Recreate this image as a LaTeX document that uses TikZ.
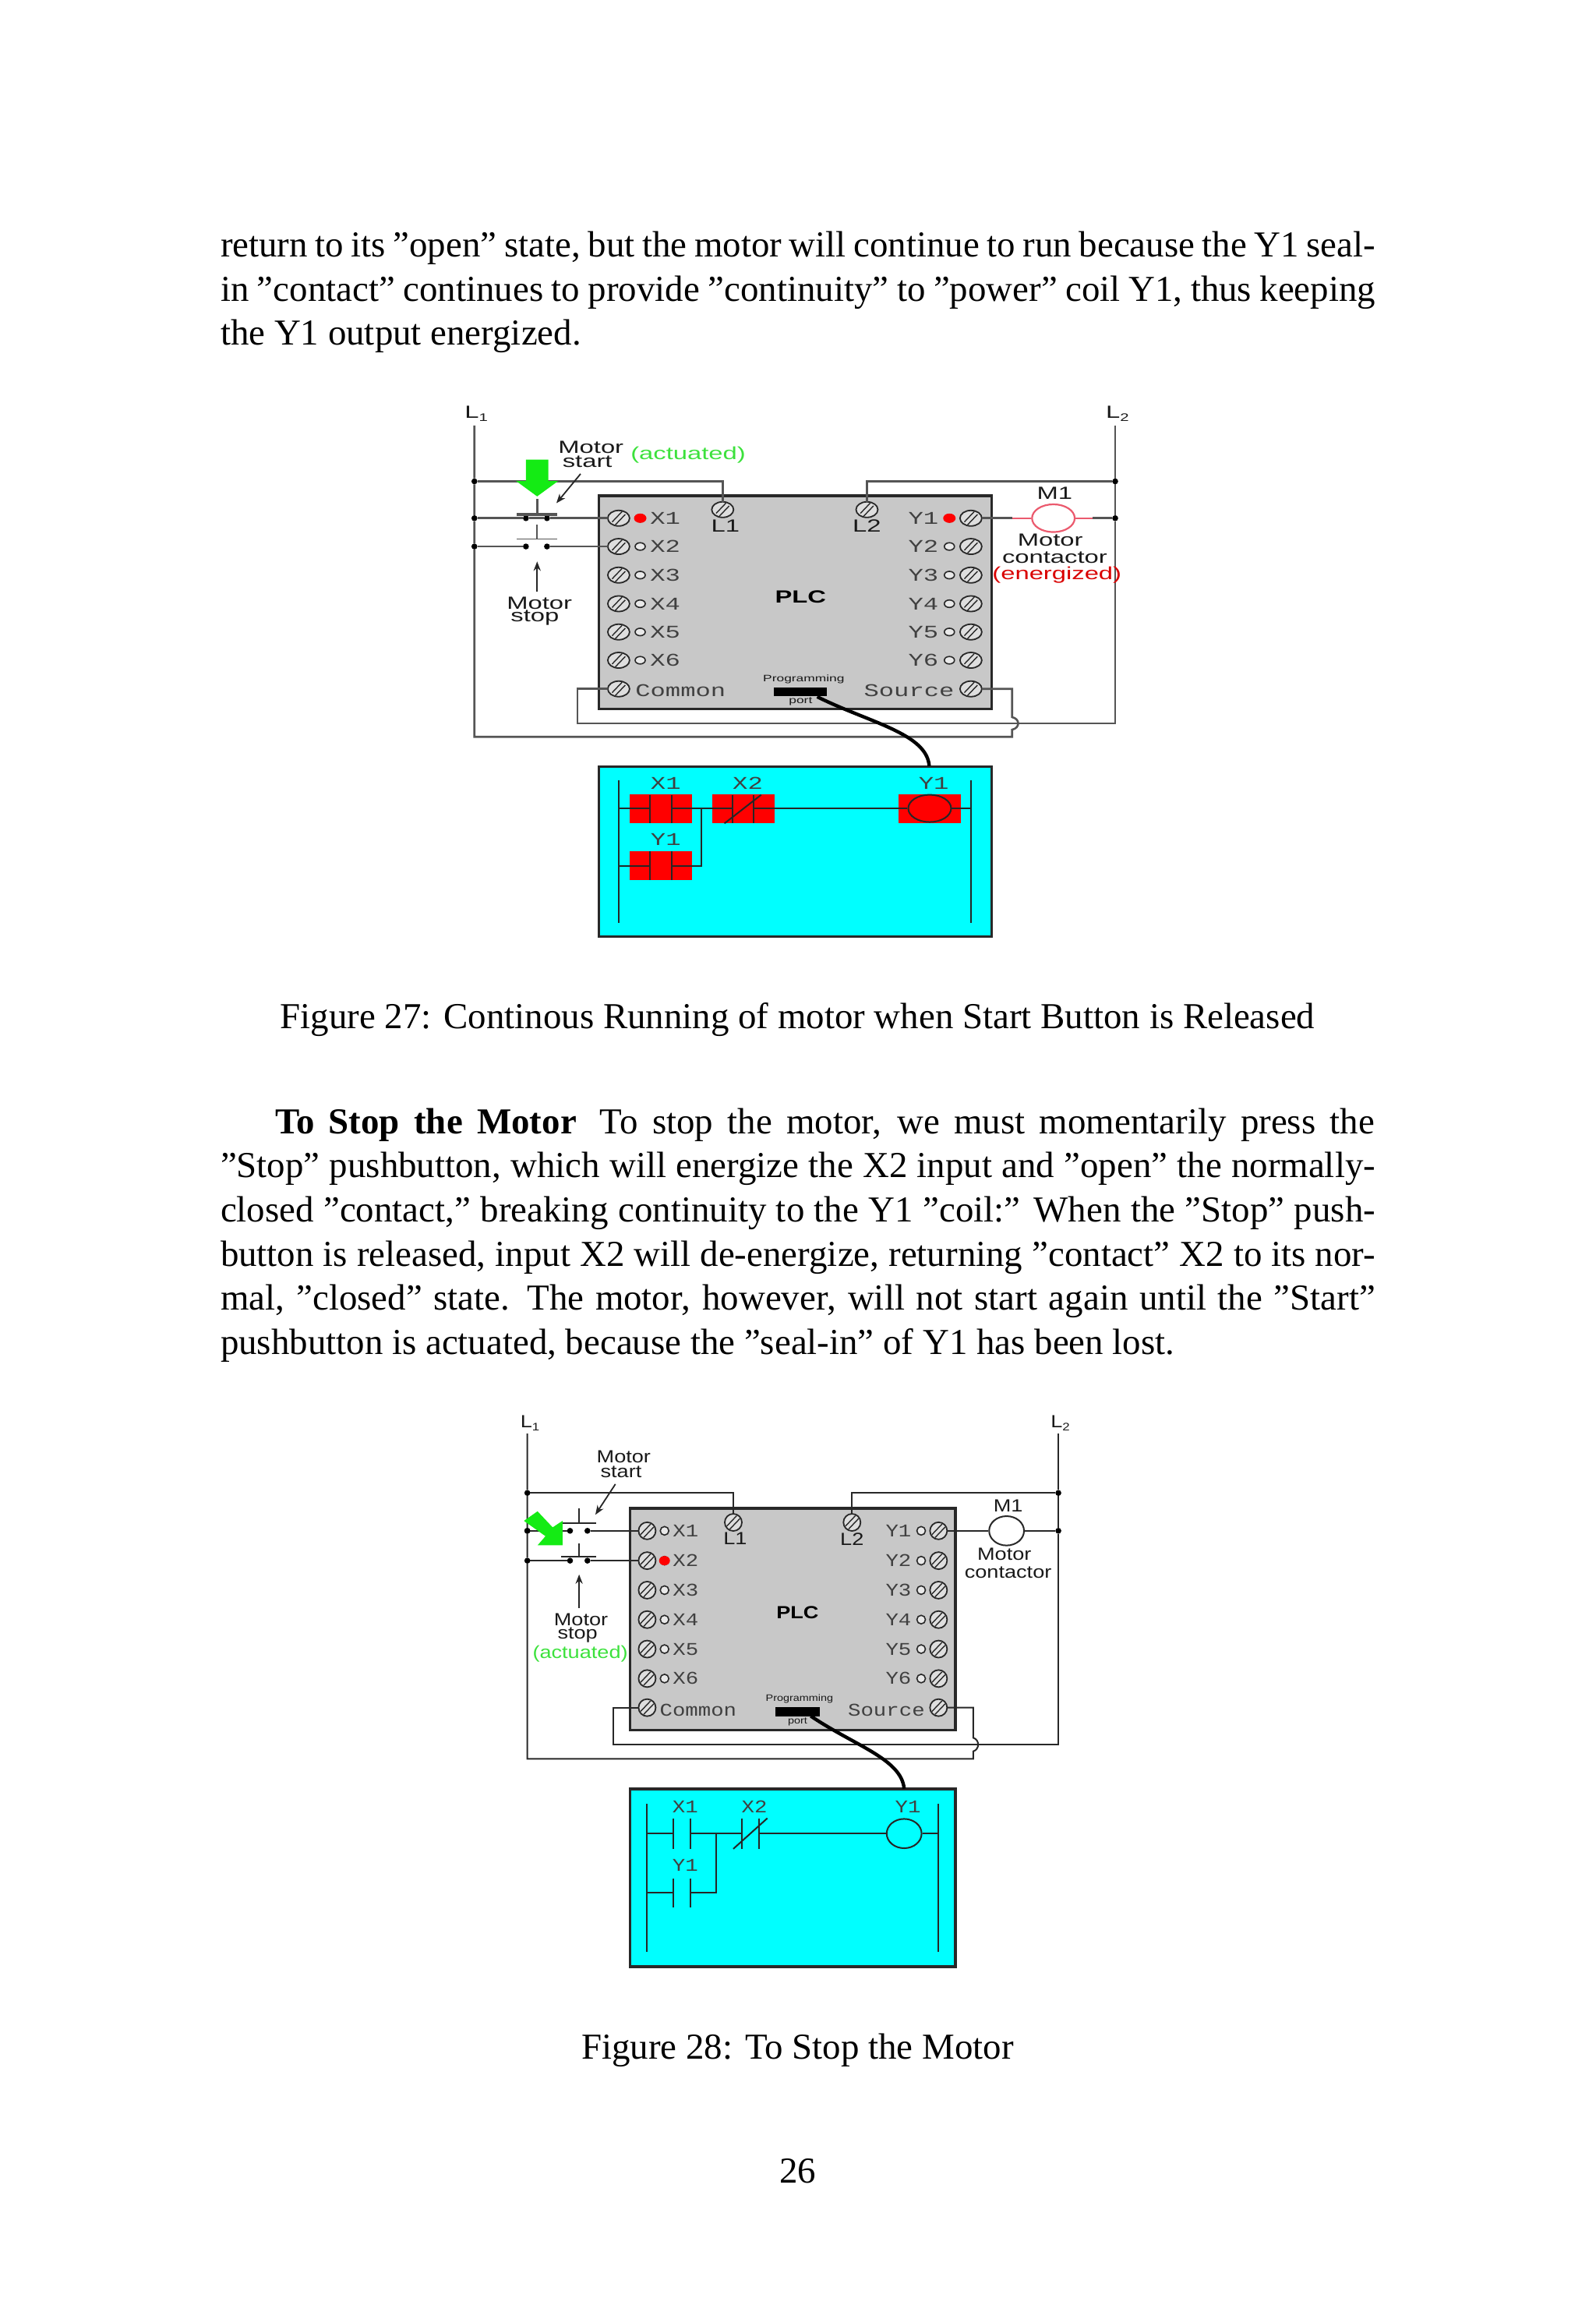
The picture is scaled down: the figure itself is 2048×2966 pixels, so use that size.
\documentclass[tikz,border=0pt]{standalone}
\usepackage{fontspec}
\usepackage{graphicx}
\usetikzlibrary{shapes.geometric,arrows.meta}
\setmainfont{Liberation Serif}
\newfontfamily\labsans{Liberation Sans}
\newfontfamily\labmono{Liberation Mono}
\newcommand{\Aa}[1]{\scalebox{1.45}[1]{#1}}
\newcommand{\Ab}[1]{\scalebox{1.2}[1]{#1}}
\newcommand{\Ma}[1]{\scalebox{1.4}[1]{#1}}
\newcommand{\Mb}[1]{\scalebox{1.19}[1]{#1}}
\newcommand{\Lsub}[1]{L\raisebox{-2pt}{\scalebox{.62}{#1}}}
\newcommand{\bodyline}[3]{\node[bodytext] (#1) at #2 {\hbox to 741pt{#3}};}
\newcommand{\screwmark}[1]{%
  \draw[screwline] ([shift={(-4.2pt,-2.4pt)}]#1.center) -- ([shift={(2.2pt,4.3pt)}]#1.center);
  \draw[screwline] ([shift={(-2.2pt,-4.3pt)}]#1.center) -- ([shift={(4.2pt,2.4pt)}]#1.center);}
\definecolor{plcgray}{RGB}{200,200,200}
\definecolor{wiregray}{RGB}{85,85,85}
\definecolor{wiredark}{RGB}{40,40,40}
\definecolor{actgreen}{RGB}{60,225,60}
\definecolor{coilred}{RGB}{235,90,110}
\definecolor{ladcyan}{RGB}{0,255,255}
\definecolor{hotg}{RGB}{20,235,20}
\tikzset{
  bodytext/.style={anchor=base west,inner sep=0pt,outer sep=0pt,font=\fontsize{23.45}{23.45}\selectfont},
  captext/.style={anchor=base,inner sep=0pt,outer sep=0pt,font=\fontsize{23.45}{23.45}\selectfont},
  lab/.style={inner sep=0pt,outer sep=0pt,font=\labsans\fontsize{11.3}{11.3}\selectfont,text=black!90},
  tiny lab/.style={inner sep=0pt,outer sep=0pt,font=\labsans\fontsize{6}{6}\selectfont,text=black!90},
  plctitle/.style={inner sep=0pt,outer sep=0pt,font=\labsans\bfseries\fontsize{11.3}{11.3}\selectfont},
  mono/.style={inner sep=0pt,outer sep=0pt,font=\labmono\fontsize{11.5}{11.5}\selectfont,text=black!75},
  cascreen/.style={draw=wiredark,line width=1.6pt,fill=plcgray,rectangle,inner sep=0pt},
  ladscreen/.style={draw=wiredark,line width=1.6pt,fill=ladcyan,rectangle,inner sep=0pt},
  screwA/.style={draw=wiredark,line width=.9pt,fill=plcgray!60,ellipse,minimum width=14pt,minimum height=10pt,inner sep=0pt,outer sep=0pt},
  screwB/.style={draw=wiredark,line width=.9pt,fill=plcgray!60,ellipse,minimum width=11pt,minimum height=11pt,inner sep=0pt,outer sep=0pt},
  screwline/.style={line width=.7pt,draw=wiredark},
  ledoffA/.style={draw=wiredark,line width=.8pt,fill=plcgray!40,ellipse,minimum width=6.5pt,minimum height=4.8pt,inner sep=0pt},
  ledonA/.style={fill=red,ellipse,minimum width=8pt,minimum height=6pt,inner sep=0pt},
  ledoffB/.style={draw=wiredark,line width=.8pt,fill=plcgray!40,ellipse,minimum width=5.5pt,minimum height=5.5pt,inner sep=0pt},
  ledonB/.style={fill=red,ellipse,minimum width=7pt,minimum height=6pt,inner sep=0pt},
  dotn/.style={fill=black,circle,minimum size=3.8pt,inner sep=0pt,outer sep=0pt},
  wireA/.style={draw=wiregray,line width=1.3pt},
  wireB/.style={draw=wiredark,line width=1pt},
  ladwire/.style={draw=black!85,line width=1pt},
  redblock/.style={fill=red,rectangle,minimum width=40pt,minimum height=18.5pt,inner sep=0pt},
  cable/.style={draw=black,line width=2.2pt},
  thinarrow/.style={draw=black!85,line width=.9pt,-{Stealth[length=6pt,width=4.6pt]}},
  hotgreen/.style={fill=hotg,draw=none},
}
\begin{document}
\begin{tikzpicture}[x=.5pt,y=-.5pt]
\useasboundingbox (0,0) rectangle (2048,2966);
% ---------- text ----------
\bodyline{t1}{(283,329.3)}{return to its ”open” state, but the motor will continue to run because the Y1 seal-}
\bodyline{t2}{(283,386)}{in ”contact” continues to provide ”continuity” to ”power” coil Y1, thus keeping}
\node[bodytext] (t3) at (283,442.7) {the Y1 output energized.};
\node[captext] (cap27) at (1023.5,1319) {Figure 27: Continous Running of motor when Start Button is Released};
\node[bodytext] (t4) at (353,1454) {\hbox to 705.5pt{{\bfseries To Stop the Motor}\hskip 15pt To stop the motor, we must momentarily press the}};
\bodyline{t5}{(283,1510.7)}{”Stop” pushbutton, which will energize the X2 input and ”open” the normally-}
\bodyline{t6}{(283,1567.3)}{closed ”contact,” breaking continuity to the Y1 ”coil:” When the ”Stop” push-}
\bodyline{t7}{(283,1624)}{button is released, input X2 will de-energize, returning ”contact” X2 to its nor-}
\bodyline{t8}{(283,1680.7)}{mal, ”closed” state.\hskip 11pt The motor, however, will not start again until the ”Start”}
\node[bodytext] (t9) at (283,1737.3) {pushbutton is actuated, because the ”seal-in” of Y1 has been lost.};
\node[captext] (cap28) at (1023.5,2641) {Figure 28: To Stop the Motor};
\node[captext] (pg) at (1023.5,2800.7) {26};

% ---------- Figure 27 ----------
\begin{scope}[shift={(580,500)},x=.2875pt,y=-.2295pt]
\node[cascreen,minimum width=252pt,minimum height=136.8pt] (aplc) at (766.5,594.5) {};
\node[ladscreen,minimum width=252pt,minimum height=109pt] (alad) at (766.5,1290) {};
\node[lab] (aL1) at (54,68) {\Aa{\Lsub{1}}};
\node[lab] (aL2) at (1485,68) {\Aa{\Lsub{2}}};
\coordinate (aL1t) at (50,100);
\coordinate (aL2t) at (1480,100);
\node[dotn] (aj1) at (50,256) {};
\node[dotn] (aj2) at (50,359) {};
\node[dotn] (aj3) at (50,438) {};
\node[dotn] (aj4) at (1480,256) {};
\node[dotn] (aj5) at (1480,359) {};
% terminals
\foreach \n/\y/\t in {1/359/X1,2/438/X2,3/518/X3,4/598/X4,5/677/X5,6/756/X6}{
  \node[screwA] (ax\n) at (372,\y) {};
  \screwmark{ax\n}
  \node[ledoffA] (alx\n) at (420,\y) {};
  \node[mono] (atx\n) at (476,\y) {\Ma{\t}};
}
\foreach \n/\y/\t in {1/359/Y1,2/438/Y2,3/518/Y3,4/598/Y4,5/677/Y5,6/756/Y6}{
  \node[screwA] (ay\n) at (1158,\y) {};
  \screwmark{ay\n}
  \node[ledoffA] (aly\n) at (1110,\y) {};
  \node[mono] (aty\n) at (1052,\y) {\Ma{\t}};
}
\node[ledonA] (alx1r) at (420,359) {};
\node[ledonA] (aly1r) at (1110,359) {};
\node[screwA] (acom) at (372,836) {}; \screwmark{acom}
\node[screwA] (asrc) at (1158,836) {}; \screwmark{asrc}
\node[screwA] (atL1) at (604,335) {}; \screwmark{atL1}
\node[screwA] (atL2) at (926,335) {}; \screwmark{atL2}
\node[lab] (atL1l) at (610,380) {\Aa{L1}};
\node[lab] (atL2l) at (926,380) {\Aa{L2}};
\node[mono] (acomt) at (510,840) {\Ma{Common}};
\node[mono] (asrct) at (1020,840) {\Ma{Source}};
\node[plctitle] (aplct) at (778,578) {\Aa{PLC}};
\node[tiny lab] (aprog) at (785,810) {\Aa{Programming}};
\node[fill=black,rectangle,minimum width=34pt,minimum height=5.5pt,inner sep=0pt] (aport) at (777,844) {};
\node[tiny lab] (aportt) at (778,872) {\Aa{port}};
% power wiring
\draw[wireA] (aL1t) -- (aj1) -- (aj2) -- (aj3) -- (50,970) coordinate (aLc) -- (1250,970) -- (1250,950)
  .. controls (1268,945) and (1268,920) .. (1250,915) -- (1250,836) -- (asrc);
\draw[wireA] (aL2t) -- (aj4) -- (aj5) -- (1480,932) -- (280,932) -- (280,836) -- (acom);
\draw[wireA] (aj1) -- (604,256) -- (atL1);
\draw[wireA] (aj4) -- (926,256) -- (atL2);
% contactor
\node[draw=coilred,line width=1.1pt,fill=white,ellipse,minimum width=27.4pt,minimum height=17.8pt,inner sep=0pt] (acoil) at (1342,359) {};
\coordinate (acr1) at (1250,359);
\coordinate (acr2) at (1430,359);
\draw[wireA] (ay1) -- (acr1);
\draw[draw=coilred,line width=1pt] (acr1) -- (acoil) -- (acr2);
\draw[wireA] (acr2) -- (aj5);
\node[lab] (am1) at (1345,290) {\Aa{M1}};
\node[lab] (am2) at (1335,420) {\Aa{Motor}};
\node[lab] (am3) at (1345,470) {\Aa{contactor}};
\node[lab,text=red!85!black] (am4) at (1350,518) {\Aa{(energized)}};
% start button
\node[dotn] (asa) at (165,359) {};
\node[dotn] (asb) at (212,359) {};
\draw[wireA] (aj2) -- (asa);
\draw[wireA] (asb) -- (ax1);
\draw[wireA] (asa) -- (asb);
\draw[wireA,line width=1.8pt] (145,349) coordinate (asbl) -- (235,349) coordinate (asbr);
\draw[wireA] (190,349) -- (190,305) coordinate (asst);
\node[dotn] (apa) at (165,438) {};
\node[dotn] (apb) at (212,438) {};
\draw[wireA] (aj3) -- (apa);
\draw[wireA] (apb) -- (ax2);
\draw[wireA,line width=.9pt] (145,417) coordinate (apbl) -- (235,417) coordinate (apbr);
\draw[wireA,line width=.9pt] (190,417) -- (190,377) coordinate (apst);
\fill[hotgreen] (165,195) -- (215,195) -- (215,255) -- (237,255) -- (190,298) -- (143,255) -- (165,255) -- cycle;
\node[lab] (ams1) at (310,160) {\Aa{Motor}};
\node[lab] (ams2) at (302,200) {\Aa{start}};
\node[lab,text=actgreen] (aact) at (527,182) {\Aa{(actuated)}};
\node[lab] (amp1) at (195,597) {\Aa{Motor}};
\node[lab] (amp2) at (185,638) {\Aa{stop}};
\draw[thinarrow] (287,235) coordinate (asaf) -- (233,317) coordinate (asat);
\draw[thinarrow] (190,565) coordinate (apaf) -- (190,480) coordinate (apat);
% cable
\draw[cable] (815,858) coordinate (acbs) .. controls (930,930) and (1060,960) .. (1065,1052) coordinate (acab);
% ladder
\node[redblock] (abx1) at (466,1172) {};
\node[redblock] (abx2) at (650,1172) {};
\node[redblock] (aby1) at (1066,1172) {};
\node[redblock] (abs1) at (466,1330) {};
\draw[ladwire] (373,1092) -- (373,1490);
\draw[ladwire] (1158,1092) -- (1158,1490);
\draw[ladwire] (442,1132) -- (442,1212);
\draw[ladwire] (490,1132) -- (490,1212);
\draw[ladwire] (626,1132) -- (626,1212);
\draw[ladwire] (673,1132) -- (673,1212);
\draw[ladwire] (608,1212) -- (690,1132);
\draw[ladwire] (442,1290) -- (442,1370);
\draw[ladwire] (490,1290) -- (490,1370);
\node[draw=black!85,line width=1pt,ellipse,minimum width=27.5pt,minimum height=17.5pt,inner sep=0pt] (acl) at (1066,1170) {};
\draw[ladwire] (373,1170) -- (442,1170);
\draw[ladwire] (490,1170) -- (626,1170);
\draw[ladwire] (673,1170) -- (acl);
\draw[ladwire] (acl) -- (1158,1170);
\draw[ladwire] (373,1330) -- (442,1330);
\draw[ladwire] (490,1330) -- (557,1330) -- (557,1170);
\node[mono] (alx1) at (477,1100) {\Ma{X1}};
\node[mono] (alx2) at (660,1100) {\Ma{X2}};
\node[mono] (aly1) at (1075,1100) {\Ma{Y1}};
\node[mono] (aly2) at (477,1256) {\Ma{Y1}};
\end{scope}

% ---------- Figure 28 ----------
\begin{scope}[shift={(650,1790)},x=.2425pt,y=-.2455pt]
\node[cascreen,minimum width=208.6pt,minimum height=142.3pt] (bplc) at (757.5,585) {};
\node[ladscreen,minimum width=208.6pt,minimum height=114pt] (blad) at (757.5,1260.5) {};
\node[lab] (bL1) at (62,72) {\Ab{\Lsub{1}}};
\node[lab] (bL2) at (1465,72) {\Ab{\Lsub{2}}};
\coordinate (bL1t) at (55,100);
\coordinate (bL2t) at (1460,100);
\node[dotn] (bj1) at (55,255) {};
\node[dotn] (bj2) at (55,354) {};
\node[dotn] (bj3) at (55,432) {};
\node[dotn] (bj4) at (1460,255) {};
\node[dotn] (bj5) at (1460,354) {};
\foreach \n/\y/\t in {1/354/X1,2/432/X2,3/509/X3,4/586/X4,5/663/X5,6/740/X6}{
  \node[screwB] (bx\n) at (372,\y) {};
  \screwmark{bx\n}
  \node[ledoffB] (blx\n) at (418,\y) {};
  \node[mono] (btx\n) at (474,\y) {\Mb{\t}};
}
\foreach \n/\y/\t in {1/354/Y1,2/432/Y2,3/509/Y3,4/586/Y4,5/663/Y5,6/740/Y6}{
  \node[screwB] (by\n) at (1143,\y) {};
  \screwmark{by\n}
  \node[ledoffB] (bly\n) at (1097,\y) {};
  \node[mono] (bty\n) at (1037,\y) {\Mb{\t}};
}
\node[ledonB] (blx2r) at (418,432) {};
\node[screwB] (bcom) at (372,816) {}; \screwmark{bcom}
\node[screwB] (bsrc) at (1143,816) {}; \screwmark{bsrc}
\node[screwB] (btL1) at (600,332) {}; \screwmark{btL1}
\node[screwB] (btL2) at (914,332) {}; \screwmark{btL2}
\node[lab] (btL1l) at (605,375) {\Ab{L1}};
\node[lab] (btL2l) at (914,375) {\Ab{L2}};
\node[mono] (bcomt) at (507,822) {\Mb{Common}};
\node[mono] (bsrct) at (1005,822) {\Mb{Source}};
\node[plctitle] (bplct) at (770,568) {\Ab{PLC}};
\node[tiny lab] (bprog) at (775,793) {\Ab{Programming}};
\node[fill=black,rectangle,minimum width=28.5pt,minimum height=5.7pt,inner sep=0pt] (bport) at (769.5,826.5) {};
\node[tiny lab] (bportt) at (770,853) {\Ab{port}};
\draw[wireB] (bL1t) -- (bj1) -- (bj2) -- (bj3) -- (55,950) -- (1235,950) -- (1235,930)
  .. controls (1252,925) and (1252,900) .. (1235,895) -- (1235,816) -- (bsrc);
\draw[wireB] (bL2t) -- (bj4) -- (bj5) -- (1460,912) -- (282,912) -- (282,816) -- (bcom);
\draw[wireB] (bj1) -- (600,255) -- (btL1);
\draw[wireB] (bj4) -- (914,255) -- (btL2);
\node[draw=wiredark,line width=1pt,fill=white,ellipse,minimum width=22.4pt,minimum height=18.8pt,inner sep=0pt] (bcoil) at (1323,354) {};
\draw[wireB] (by1) -- (bcoil);
\draw[wireB] (bcoil) -- (bj5);
\node[lab] (bm1) at (1327,288) {\Ab{M1}};
\node[lab] (bm2) at (1317,415) {\Ab{Motor}};
\node[lab] (bm3) at (1327,463) {\Ab{contactor}};
\node[dotn] (bsa) at (168,354) {};
\node[dotn] (bsb) at (214,354) {};
\draw[wireB] (bj2) -- (bsa);
\draw[wireB] (bsb) -- (bx1);
\draw[wireB] (145,333) coordinate (bsbl) -- (238,333) coordinate (bsbr);
\draw[wireB] (192,333) -- (192,295) coordinate (bsst);
\node[dotn] (bpa) at (168,432) {};
\node[dotn] (bpb) at (214,432) {};
\draw[wireB] (bj3) -- (bpa);
\draw[wireB] (bpb) -- (bx2);
\draw[wireB] (145,422) coordinate (bpbl) -- (238,422) coordinate (bpbr);
\draw[wireB] (192,422) -- (192,387) coordinate (bpst);
\fill[hotgreen] (46,328) -- (82,303) -- (122,345) -- (148,328) -- (148,392) -- (82,392) -- (103,368) -- cycle;
\node[dotn] (bj2b) at (55,354) {};
\node[lab] (bms1) at (310,160) {\Ab{Motor}};
\node[lab] (bms2) at (303,200) {\Ab{start}};
\node[lab] (bmp1) at (197,586) {\Ab{Motor}};
\node[lab] (bmp2) at (188,627) {\Ab{stop}};
\node[lab,text=actgreen] (bact) at (195,675) {\Ab{(actuated)}};
\draw[thinarrow] (288,232) coordinate (bsaf) -- (235,312) coordinate (bsat);
\draw[thinarrow] (192,555) coordinate (bpaf) -- (192,468) coordinate (bpat);
\draw[cable] (805,838) coordinate (bcbs) .. controls (920,915) and (1045,950) .. (1052,1028) coordinate (bcab);
\draw[ladwire] (372,1068) -- (372,1455);
\draw[ladwire] (1142,1068) -- (1142,1455);
\draw[ladwire] (441,1105) -- (441,1185);
\draw[ladwire] (487,1105) -- (487,1185);
\draw[ladwire] (622,1105) -- (622,1185);
\draw[ladwire] (668,1105) -- (668,1185);
\draw[ladwire] (600,1185) -- (690,1105);
\draw[ladwire] (441,1262) -- (441,1338);
\draw[ladwire] (487,1262) -- (487,1338);
\node[draw=black!85,line width=1pt,ellipse,minimum width=22.4pt,minimum height=18.8pt,inner sep=0pt] (bcl) at (1052,1145) {};
\draw[ladwire] (372,1145) -- (441,1145);
\draw[ladwire] (487,1145) -- (622,1145);
\draw[ladwire] (668,1145) -- (bcl);
\draw[ladwire] (bcl) -- (1142,1145);
\draw[ladwire] (372,1300) -- (441,1300);
\draw[ladwire] (487,1300) -- (554,1300) -- (554,1145);
\node[mono] (blb1) at (473,1075) {\Mb{X1}};
\node[mono] (blb2) at (656,1075) {\Mb{X2}};
\node[mono] (blb3) at (1062,1075) {\Mb{Y1}};
\node[mono] (blb4) at (473,1228) {\Mb{Y1}};
\end{scope}
\end{tikzpicture}
\end{document}
